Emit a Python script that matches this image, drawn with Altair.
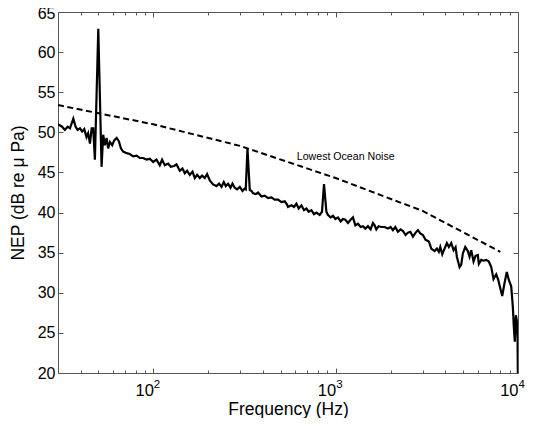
import altair as alt
import pandas as pd

# ---- data ----
nep_freq = [30.0, 31.6, 32.7, 33.9, 34.9, 36.4, 37.5, 38.4, 39.6, 40.7, 41.8, 43.0, 43.9, 44.9,
            45.9, 46.8, 47.8, 49.9, 52.0, 53.1, 54.2, 55.4, 56.5, 57.8, 59.5, 61.0, 62.9, 64.7,
            66.4, 68.3, 71.3, 74.3, 77.5, 80.9, 84.3, 87.9, 91.8, 95.7, 99.8, 104.1, 108.5,
            111.7, 115.6, 120.5, 124.7, 130.0, 134.0, 139.7, 144.5, 148.8, 153.1, 158.5, 164.0,
            168.8, 173.8, 179.8, 185.1, 191.5, 197.2, 204.0, 212.7, 222.0, 229.4, 236.5, 243.4,
            249.6, 257.0, 264.9, 271.6, 279.7, 287.9, 297.9, 308.2, 317.3, 321.3, 328.3, 338.0,
            345.3, 352.3, 364.5, 375.3, 391.7, 408.3, 425.6, 444.3, 463.2, 482.9, 504.1, 525.5,
            541.1, 547.9, 571.9, 590.9, 609.1, 627.1, 648.9, 670.5, 691.2, 711.5, 736.0, 760.6,
            784.0, 817.4, 841.4, 863.0, 889.5, 907.7, 938.9, 966.5, 996.3, 1029.5, 1065, 1096,
            1130, 1168, 1208, 1244, 1282, 1325, 1371, 1411, 1455, 1503, 1555, 1601, 1636, 1671,
            1720, 1780, 1856, 1935, 2001, 2061, 2124, 2195, 2271, 2338, 2419, 2490, 2567, 2653,
            2745, 2825, 2912, 3009, 3113, 3245, 3345, 3487, 3590, 3681, 3747, 3843, 3956, 4073,
            4177, 4305, 4432, 4545, 4621, 4780, 4884, 4983, 5136, 5307, 5422, 5541, 5704, 5849,
            6021, 6098, 6286, 6471, 6695, 6918, 7131, 7342, 7596, 7790, 7990, 8193, 8433, 8681,
            8904, 9178, 9365, 9484, 9605, 9726, 9849, 9938, 9990]
nep_db = [51.0, 50.7, 50.3, 50.7, 50.5, 51.7, 50.7, 50.3, 50.5, 50.1, 50.4, 49.4, 49.9, 48.6,
          50.5, 50.5, 46.6, 62.9, 45.7, 49.7, 48.4, 49.3, 48.0, 48.8, 48.4, 49.0, 49.3, 48.9,
          48.0, 47.6, 47.4, 47.3, 47.0, 47.1, 46.8, 46.8, 46.6, 46.7, 46.3, 46.6, 45.9,
          46.6, 45.9, 46.1, 45.7, 45.8, 46.0, 45.2, 45.5, 44.9, 45.2, 44.7, 45.1,
          44.3, 44.7, 44.3, 44.6, 44.3, 44.8, 44.0, 43.5, 43.3, 43.6, 43.2, 43.8,
          43.3, 43.6, 43.1, 43.6, 43.1, 42.9, 43.2, 42.7, 43.0, 42.9, 48.0, 42.8,
          42.7, 42.4, 42.3, 42.5, 42.0, 42.1, 41.8, 41.9, 41.6, 41.6, 41.3, 41.4,
          41.0, 40.7, 40.9, 40.7, 41.1, 40.5, 40.9, 40.3, 40.5, 40.1, 40.3, 39.8,
          40.0, 39.7, 40.1, 43.55, 40.1, 39.7, 39.4, 39.6, 39.2, 39.4, 38.9, 39.2,
          39.1, 38.7, 39.1, 39.4, 38.4, 38.6, 38.2, 38.3, 38.0, 38.3, 37.9, 38.7, 38.4, 37.9,
          38.3, 38.2, 38.2, 38.0, 38.2, 37.8, 38.2, 37.6, 37.9, 37.7, 37.2, 37.5, 37.6, 37.0,
          37.5, 37.8, 37.4, 37.2, 36.6, 36.4, 35.5, 35.2, 35.5, 35.1, 35.7, 34.8, 35.5, 36.2,
          35.7, 36.2, 35.3, 35.7, 34.5, 33.2, 33.5, 34.9, 35.7, 35.2, 34.5, 35.3, 33.9, 34.6,
          34.7, 33.6, 34.1, 34.0, 34.1, 33.9, 33.2, 31.7, 32.3, 31.6, 30.6, 29.6, 31.2, 32.6,
          31.6, 30.8, 28.3, 25.8, 23.9, 27.2, 26.6, 24.5, 19.0]

ocean_freq = [30, 100, 300, 1000, 3000, 8000]
ocean_db = [53.4, 51.0, 48.3, 44.3, 40.2, 35.1]

label_text = ["Lowest Ocean Noise"]
label_freq = [1135]
label_db = [46.6]

y_ticks = [20, 25, 30, 35, 40, 45, 50, 55, 60, 65]
x_major = [100, 1000, 10000]
x_exponents = ["2", "3", "4"]
x_minor = [40, 50, 60, 70, 80, 90, 200, 300, 400, 500, 600, 700, 800, 900,
           2000, 3000, 4000, 5000, 6000, 7000, 8000, 9000]
x_all = sorted(x_minor + x_major)

# ---- chart ----
W, H = 460, 361
FONT = "Liberation Sans"
FRAME = "#555555"

df_nep = pd.DataFrame({"freq": nep_freq, "db": nep_db})
df_ocean = pd.DataFrame({"freq": ocean_freq, "db": ocean_db})
df_lbl = pd.DataFrame({"freq": label_freq, "db": label_db, "label": label_text})

xs = alt.Scale(type="log", domain=[30, 10000], nice=False)
ys = alt.Scale(domain=[20, 65], nice=False, zero=False)

major_test = "datum.value == 100 || datum.value == 1000 || datum.value == 10000"
x_tick_len = {"condition": {"test": major_test, "value": 5}, "value": 3}
top_label_shift = {"condition": {"test": "datum.value == %d" % y_ticks[-1], "value": 1.5}, "value": 0}


def inner_x_axis(orient):
    return alt.Axis(orient=orient, offset=-H, values=x_all, labels=False, domain=False,
                    grid=False, title=None, tickSize=x_tick_len, tickColor=FRAME, tickWidth=1)


def inner_y_axis(orient):
    return alt.Axis(orient=orient, offset=-W, values=y_ticks, labels=False, domain=False,
                    grid=False, title=None, tickSize=5, tickColor=FRAME, tickWidth=1)


exp_expr = "datum.value == %d ? '%s' : (datum.value == %d ? '%s' : '%s')" % (
    x_major[0], x_exponents[0], x_major[1], x_exponents[1], x_exponents[2])

solid = alt.Chart(df_nep).mark_line(color="black", strokeWidth=2.2, clip=True).encode(
    x=alt.X("freq:Q", scale=xs,
            axis=alt.Axis(orient="bottom", values=x_major, labelExpr="'10'", ticks=False,
                          domain=False, grid=False, title="Frequency (Hz)", labelFontSize=16.5,
                          labelAlign="right", labelPadding=9, labelFlush=False,
                          labelOverlap=False, titleFontSize=17.5,
                          titleY=41, titleBaseline="alphabetic")),
    y=alt.Y("db:Q", scale=ys,
            axis=alt.Axis(orient="left", values=y_ticks, ticks=False, domain=False, grid=False,
                          title="NEP (dB re \u03bc Pa)", labelFontSize=16, labelPadding=3,
                          labelOffset=top_label_shift,
                          labelFlush=False, titleFontSize=17.5, titlePadding=10)),
)

dashed = alt.Chart(df_ocean).mark_line(color="black", strokeWidth=2, strokeDash=[6, 3.5], clip=True).encode(
    x=alt.X("freq:Q", scale=xs, axis=inner_x_axis("top")),
    y=alt.Y("db:Q", scale=ys, axis=inner_y_axis("right")),
)

txt = alt.Chart(df_lbl).mark_text(font=FONT, fontSize=10.6, align="center", baseline="alphabetic",
                                  color="black").encode(
    x=alt.X("freq:Q", scale=xs, axis=inner_x_axis("bottom")),
    y=alt.Y("db:Q", scale=ys, axis=inner_y_axis("left")),
    text="label:N",
)

# exponent labels of the decade ticks (superscripts), as a second bottom axis
exps = alt.Chart(df_ocean).mark_line(opacity=0).encode(
    x=alt.X("freq:Q", scale=xs,
            axis=alt.Axis(orient="bottom", values=x_major, labelExpr=exp_expr, ticks=False,
                          domain=False, grid=False, title=None, labelFontSize=11.5,
                          labelAlign="left", labelPadding=5, labelFlush=False,
                          labelOverlap=False)),
    y=alt.Y("db:Q", scale=ys, axis=None),
)

chart = (
    alt.layer(solid, dashed, txt, exps)
    .resolve_axis(x="independent", y="independent")
    .properties(width=W, height=H, autosize=alt.AutoSizeParams(type="none"),
                padding={"left": 50, "top": 4, "right": 12, "bottom": 45},
                background="white")
    .configure_view(stroke=FRAME, strokeWidth=1)
    .configure_axis(labelFont=FONT, titleFont=FONT, labelColor="black", titleColor="black",
                    titleFontWeight="normal")
)

chart.save("out.html", embed_options={"renderer": "svg", "actions": False})
